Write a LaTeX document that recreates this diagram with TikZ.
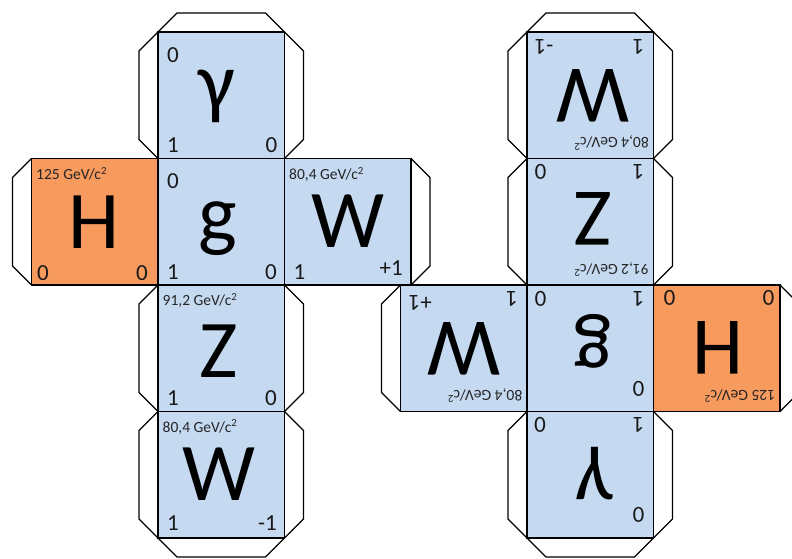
\documentclass[tikz,border=0pt]{standalone}
\usepackage{fontspec}
\setmainfont{Carlito}
\definecolor{pblue}{HTML}{C5D9F1}
\definecolor{porange}{HTML}{F79A5E}
\tikzset{
  tab/.style={draw=black, line width=1.3pt, fill=white, line join=miter},
  face/.style={draw=black, line width=1.3pt, minimum size=126.5pt, inner sep=0pt, outer sep=0pt},
  big/.style={inner sep=0pt, anchor=center, font=\fontsize{82}{82}\selectfont, text=black},
  corner/.style={inner sep=0pt, font=\fontsize{23}{23}\selectfont, text=black!90},
  cornertl/.style={corner, anchor=north west},
  cornerbl/.style={corner, anchor=base west},
  cornerbr/.style={corner, anchor=base east},
  mass/.style={inner sep=0pt, font=\fontsize{15.5}{16}\selectfont, text=black!85, anchor=base west},
}
\newcommand\cubenet[1]{%
  % tabs
  \draw[tab] (158,32) -- (177,13) -- (265.5,13) -- (284.5,32);
  \draw[tab] (158,32) -- (139,51) -- (139,139.5) -- (158,158.5);
  \draw[tab] (284.5,32) -- (303.5,51) -- (303.5,139.5) -- (284.5,158.5);
  \draw[tab] (31.5,158.5) -- (12.5,177.5) -- (12.5,266) -- (31.5,285);
  \draw[tab] (411,158.5) -- (430,177.5) -- (430,266) -- (411,285);
  \draw[tab] (158,285) -- (139,304) -- (139,392.5) -- (158,411.5);
  \draw[tab] (284.5,285) -- (303.5,304) -- (303.5,392.5) -- (284.5,411.5);
  \draw[tab] (158,411.5) -- (139,430.5) -- (139,519) -- (158,538);
  \draw[tab] (284.5,411.5) -- (303.5,430.5) -- (303.5,519) -- (284.5,538);
  \draw[tab] (158,538) -- (177,557) -- (265.5,557) -- (284.5,538);
  % faces
  \node[face, fill=pblue]   (#1gamma) at (221.25,95.25) {};
  \node[face, fill=porange] (#1H)     at (94.75,221.75) {};
  \node[face, fill=pblue]   (#1g)     at (221.25,221.75) {};
  \node[face, fill=pblue]   (#1Wp)    at (347.75,221.75) {};
  \node[face, fill=pblue]   (#1Z)     at (221.25,348.25) {};
  \node[face, fill=pblue]   (#1Wm)    at (221.25,474.75) {};
  % gamma
  \node[big] (#1gammaL) at (217,96) {γ};
  \node[cornertl] (#1gammaTL) at (167,47) {0};
  \node[cornerbl] (#1gammaBL) at (167,152.5) {1};
  \node[cornerbr] (#1gammaBR) at (277.5,152.5) {0};
  % H
  \node[big] (#1HL) at (94,222) {H};
  \node[mass] (#1Hm) at (36,179.5) {125 GeV/c\textsuperscript{2}};
  \node[cornerbl] (#1HBL) at (37,280) {0};
  \node[cornerbr] (#1HBR) at (148,280) {0};
  % g
  \node[big] (#1gL) at (218,229) {g};
  \node[cornertl] (#1gTL) at (167,173.5) {0};
  \node[cornerbl] (#1gBL) at (167,279) {1};
  \node[cornerbr] (#1gBR) at (277,279) {0};
  % W+
  \node[big] (#1WpL) at (347.5,221) {W};
  \node[mass] (#1Wpm) at (289,179.5) {80,4 GeV/c\textsuperscript{2}};
  \node[cornerbl] (#1WpBL) at (293.5,279) {1};
  \node[cornerbr] (#1WpBR) at (403,275) {+1};
  % Z
  \node[big] (#1ZL) at (218.5,351) {Z};
  \node[mass] (#1Zm) at (162.5,305.5) {91,2 GeV/c\textsuperscript{2}};
  \node[cornerbl] (#1ZBL) at (167,405.5) {1};
  \node[cornerbr] (#1ZBR) at (277,405.5) {0};
  % W-
  \node[big] (#1WmL) at (218.5,474) {W};
  \node[mass] (#1Wmm) at (162.5,432) {80,4 GeV/c\textsuperscript{2}};
  \node[cornerbl] (#1WmBL) at (167,530) {1};
  \node[cornerbr] (#1WmBR) at (277,530) {-1};
}
\begin{document}
\begin{tikzpicture}[x=1pt, y=-1pt]
  \useasboundingbox (0,0) rectangle (792,559);
  \cubenet{L}
  \begin{scope}[rotate around={180:(405.75,285)}, transform shape]
    \cubenet{R}
  \end{scope}
\end{tikzpicture}
\end{document}
